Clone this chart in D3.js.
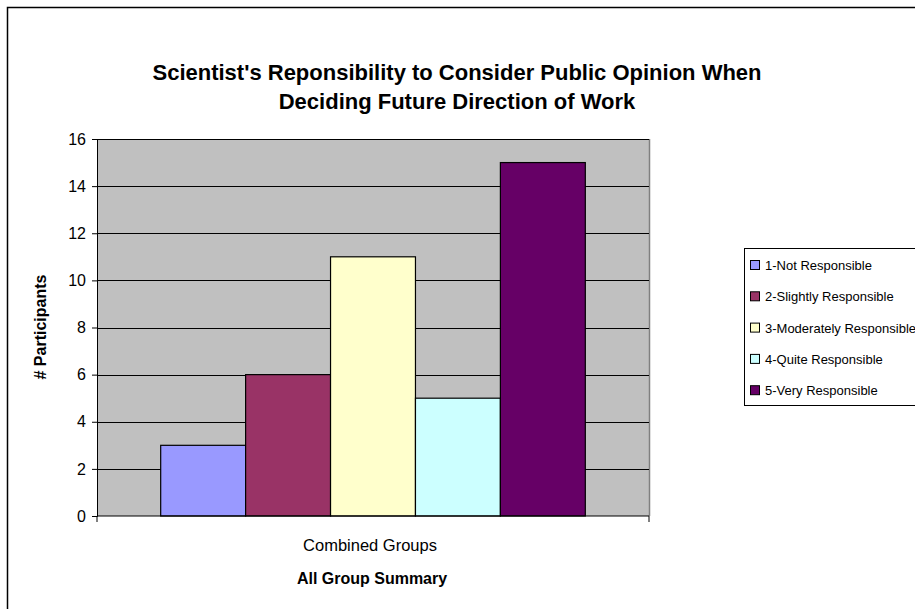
<!DOCTYPE html>
<html>
<head>
<meta charset="utf-8">
<script src="https://cdn.jsdelivr.net/npm/d3@7"></script>
<style>
  html, body { margin: 0; padding: 0; background: #fff; }
  svg { display: block; font-family: "Liberation Sans", Arial, Helvetica, sans-serif; }
</style>
</head>
<body>
<svg id="chart" width="915" height="609"></svg>
<script>
// Survey answers: how responsible scientists are to consider public opinion
const categories = ["Combined Groups"];
const seriesNames = [
  "1-Not Responsible",
  "2-Slightly Responsible",
  "3-Moderately Responsible",
  "4-Quite Responsible",
  "5-Very Responsible"
];
const seriesValues = [3, 6, 11, 5, 15];
const seriesColors = ["#9999FF", "#993366", "#FFFFCC", "#CCFFFF", "#660066"];
const yTicks = [0, 2, 4, 6, 8, 10, 12, 14, 16];

const svg = d3.select("#chart");

// Outer chart frame
svg.append("rect")
  .attr("x", 7.5).attr("y", 7.5)
  .attr("width", 930).attr("height", 620)
  .attr("fill", "#fff").attr("stroke", "#000").attr("stroke-width", 1.5);

// Title
const title = svg.append("text")
  .attr("text-anchor", "middle")
  .attr("font-size", 22).attr("font-weight", "bold");
title.append("tspan").attr("x", 457).attr("y", 80)
  .text("Scientist's Reponsibility to Consider Public Opinion When");
title.append("tspan").attr("x", 457).attr("y", 109)
  .text("Deciding Future Direction of Work");

const plot = { left: 97, right: 649, top: 139, bottom: 516 };

const x0 = d3.scaleBand().domain(categories)
  .range([plot.left, plot.right]).paddingInner(0).paddingOuter(0);
const x1 = d3.scaleBand().domain(seriesNames)
  .range([0, x0.bandwidth()]).paddingInner(0).paddingOuter(0.75);
const y = d3.scaleLinear().domain([0, 16]).range([plot.bottom, plot.top]);

// Plot area background
svg.append("rect")
  .attr("x", plot.left).attr("y", plot.top)
  .attr("width", plot.right - plot.left).attr("height", plot.bottom - plot.top)
  .attr("fill", "#C0C0C0");
svg.append("line")
  .attr("x1", plot.right + 0.5).attr("x2", plot.right + 0.5)
  .attr("y1", plot.top).attr("y2", plot.bottom)
  .attr("stroke", "#808080").attr("stroke-width", 1.5);

// Horizontal gridlines
svg.append("g")
  .selectAll("line")
  .data(yTicks.filter(d => d > 0))
  .join("line")
  .attr("x1", plot.left).attr("x2", plot.right)
  .attr("y1", d => Math.round(y(d)) + 0.5).attr("y2", d => Math.round(y(d)) + 0.5)
  .attr("stroke", "#000").attr("stroke-width", 1);

// Bars
const group = svg.append("g")
  .selectAll("g")
  .data(categories)
  .join("g")
  .attr("transform", d => `translate(${x0(d)},0)`);

group.selectAll("rect")
  .data(seriesNames.map((name, i) => ({ name, value: seriesValues[i], color: seriesColors[i] })))
  .join("rect")
  .attr("x", d => x1(d.name))
  .attr("y", d => y(d.value))
  .attr("width", x1.bandwidth())
  .attr("height", d => y(0) - y(d.value))
  .attr("fill", d => d.color)
  .attr("stroke", "#000").attr("stroke-width", 1.2);

// Y axis
const yAxis = d3.axisLeft(y).tickValues(yTicks).tickSize(5).tickPadding(6);
const gy = svg.append("g")
  .attr("transform", `translate(${plot.left},0)`)
  .call(yAxis);
gy.select(".domain").attr("stroke", "#000");
gy.selectAll(".tick line").attr("stroke", "#000");
gy.selectAll(".tick text")
  .attr("font-size", 16).attr("fill", "#000")
  .attr("font-family", "Liberation Sans, Arial, sans-serif");

// X axis: baseline with end ticks at the category boundaries
const gx = svg.append("g")
  .attr("transform", `translate(0,${plot.bottom})`);
gx.append("line")
  .attr("x1", plot.left).attr("x2", plot.right)
  .attr("stroke", "#000");
gx.selectAll("line.edge")
  .data([plot.left, plot.right])
  .join("line").attr("class", "edge")
  .attr("x1", d => d).attr("x2", d => d)
  .attr("y1", 0).attr("y2", 6)
  .attr("stroke", "#000");
gx.selectAll("text")
  .data(categories)
  .join("text")
  .attr("x", d => x0(d) + x0.bandwidth() / 2 - 3)
  .attr("y", 35)
  .attr("text-anchor", "middle")
  .attr("font-size", 16.5)
  .text(d => d);

// Axis titles
svg.append("text")
  .attr("x", 372).attr("y", 584)
  .attr("text-anchor", "middle")
  .attr("font-size", 16).attr("font-weight", "bold")
  .text("All Group Summary");

svg.append("text")
  .attr("transform", "translate(46,327) rotate(-90)")
  .attr("text-anchor", "middle")
  .attr("font-size", 16).attr("font-weight", "bold")
  .text("# Participants");

// Legend
const legend = svg.append("g").attr("transform", "translate(744,248)");
legend.append("rect")
  .attr("x", 0.5).attr("y", 0.5)
  .attr("width", 190).attr("height", 157)
  .attr("fill", "#fff").attr("stroke", "#000").attr("stroke-width", 1);

const items = legend.selectAll("g.item")
  .data(seriesNames)
  .join("g").attr("class", "item")
  .attr("transform", (d, i) => `translate(0,${17 + i * 31.3})`);
items.append("rect")
  .attr("x", 6.5).attr("y", -4.5)
  .attr("width", 9).attr("height", 9)
  .attr("fill", (d, i) => seriesColors[i])
  .attr("stroke", "#000").attr("stroke-width", 1);
items.append("text")
  .attr("x", 21).attr("y", 5)
  .attr("font-size", 13)
  .text(d => d);
</script>
</body>
</html>
